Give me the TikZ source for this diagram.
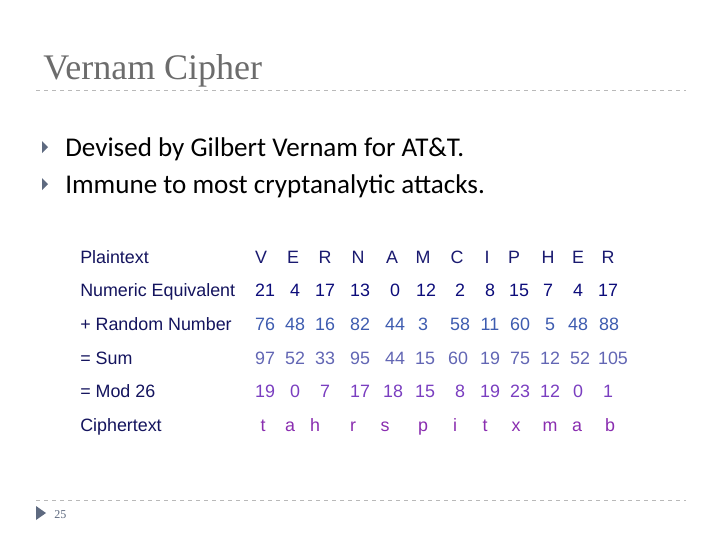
\documentclass[tikz,border=0pt]{standalone}
\usepackage{fontspec}
\setmainfont{Liberation Sans}
\newfontfamily\titlefont{Liberation Serif}
\newfontfamily\bulletfont{Carlito}
\begin{document}
\begin{tikzpicture}[x=0.75pt,y=-0.75pt,
  lab/.style={anchor=base west,font=\fontsize{13.4}{15}\selectfont,text=lbl,inner sep=0},
  cell/.style={anchor=base,font=\fontsize{13.4}{15}\selectfont,inner sep=0},
  sep/.style={draw=gray!55,dashed,line width=0.6pt},
  tri/.style={fill=bul}]
\definecolor{lbl}{HTML}{14145E}
\definecolor{r1}{HTML}{1A1A70}
\definecolor{r2}{HTML}{0C0C7A}
\definecolor{r3}{HTML}{3E5CB0}
\definecolor{r4}{HTML}{6266B4}
\definecolor{r5}{HTML}{7A3EC0}
\definecolor{r6}{HTML}{8A2EB0}
\definecolor{bul}{HTML}{5E6A80}
\useasboundingbox (0,0) rectangle (720,540);
\fill[white] (0,0) rectangle (720,540);
\node[anchor=base west,inner sep=0,text=gray!85!black,font=\titlefont\fontsize{27}{30}\selectfont] (title) at (43,79) {Vernam Cipher};
\coordinate (l1a) at (36,90); \coordinate (l1b) at (686,90);
\draw[sep] (l1a) -- (l1b);
\fill[tri] (42,141) -- (48,147) -- (42,153) -- cycle;
\fill[tri] (42,178) -- (48,184) -- (42,190) -- cycle;
\node[anchor=base west,inner sep=0,font=\bulletfont\fontsize{20.3}{22}\selectfont] (b1) at (65,156) {Devised by Gilbert Vernam for AT\&T.};
\node[anchor=base west,inner sep=0,font=\bulletfont\fontsize{20.3}{22}\selectfont] (b2) at (65,193) {Immune to most cryptanalytic attacks.};
\node[lab] (p0) at (80,263) {Plaintext};
\node[lab] (p1) at (80,296) {Numeric Equivalent};
\node[lab] (p2) at (80,330) {+ Random Number};
\node[lab] (p3) at (80,364) {= Sum};
\node[lab] (p4) at (80,397) {= Mod 26};
\node[lab] (p5) at (80,431) {Ciphertext};
\foreach \t/\x [count=\i] in {V/261,E/293,R/325,N/358,A/392,M/423,C/457,I/487,P/514,H/548,E/578,R/608}
  \node[cell,text=r1] (a\i) at (\x,263) {\t};
\foreach \t/\x [count=\i] in {21/265,4/295,17/325,13/360,0/395,12/426,2/460,8/490,15/519,7/548,4/578,17/608}
  \node[cell,text=r2] (b\i) at (\x,296) {\t};
\foreach \t/\x [count=\i] in {76/265,48/295,16/325,82/360,44/395,3/423,58/460,11/490,60/520,5/550,48/578,88/609}
  \node[cell,text=r3] (c\i) at (\x,330) {\t};
\foreach \t/\x [count=\i] in {97/265,52/295,33/325,95/360,44/395,15/425,60/458,19/490,75/520,12/550,52/580,105/613}
  \node[cell,text=r4] (d\i) at (\x,364) {\t};
\foreach \t/\x [count=\i] in {19/265,0/295,7/325,17/360,18/393,15/425,8/460,19/490,23/520,12/550,0/578,1/608}
  \node[cell,text=r5] (e\i) at (\x,397) {\t};
\foreach \t/\x [count=\i] in {t/263,a/290,h/315,r/353,s/385,p/423,i/455,t/485,x/516,m/550,a/577,b/610}
  \node[cell,text=r6] (f\i) at (\x,431) {\t};
\coordinate (l2a) at (36,500); \coordinate (l2b) at (686,500);
\draw[sep] (l2a) -- (l2b);
\fill[tri] (36,506) -- (46,513) -- (36,520) -- cycle;
\node[anchor=base west,inner sep=0,text=bul,font=\titlefont\fontsize{9}{10}\selectfont] (num) at (54,518) {25};
\end{tikzpicture}
\end{document}
